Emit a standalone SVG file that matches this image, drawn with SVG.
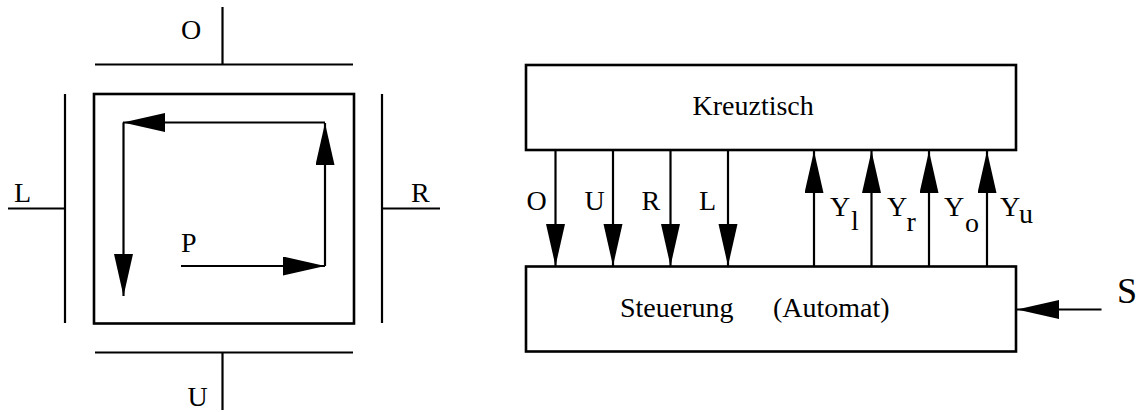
<svg xmlns="http://www.w3.org/2000/svg" width="1136" height="412" viewBox="0 0 1136 412">
  <style>
    .ln { stroke: #000; stroke-width: 2.2; fill: none; }
    .box { stroke: #000; stroke-width: 2.6; fill: #fff; }
    .arr { stroke: #000; stroke-width: 2.2; fill: none; marker-end: url(#head); }
    text { font-family: "Liberation Serif", "Times New Roman", serif; font-size: 28px; fill: #000; }
    .big { font-size: 36px; }
  </style>
  <defs>
    <marker id="head" markerUnits="userSpaceOnUse" markerWidth="44" markerHeight="22" refX="42" refY="9.5" orient="auto">
      <path d="M0,0 L42,9.5 L0,19 Z" fill="#000"/>
    </marker>
  </defs>
  <rect width="1136" height="412" fill="#fff"/>

  <!-- Left: cross table with its four limit switches -->
  <g id="table">
    <rect class="box" x="94" y="94" width="260" height="229.5"/>
  </g>
  <g id="switch-O">
    <line class="ln" x1="95" y1="64.5" x2="353" y2="64.5"/>
    <line class="ln" x1="222.5" y1="7" x2="222.5" y2="64.5"/>
    <text x="181" y="38.5">O</text>
  </g>
  <g id="switch-U">
    <line class="ln" x1="95" y1="352.5" x2="353" y2="352.5"/>
    <line class="ln" x1="222.5" y1="352.5" x2="222.5" y2="410"/>
    <text x="187.5" y="406">U</text>
  </g>
  <g id="switch-L">
    <line class="ln" x1="65" y1="94" x2="65" y2="323"/>
    <line class="ln" x1="8" y1="208.5" x2="65" y2="208.5"/>
    <text x="14" y="201.5">L</text>
  </g>
  <g id="switch-R">
    <line class="ln" x1="382" y1="94" x2="382" y2="323"/>
    <line class="ln" x1="382" y1="208.5" x2="440" y2="208.5"/>
    <text x="411" y="201.5">R</text>
  </g>
  <g id="point-P">
    <text x="181" y="252.3">P</text>
  </g>

  <!-- Path of the point P around the table -->
  <g id="path-arrows">
    <line class="arr" x1="181" y1="266" x2="325" y2="266"/>
    <line class="arr" x1="325" y1="266" x2="325" y2="123"/>
    <line class="arr" x1="325" y1="122.5" x2="123" y2="122.5"/>
    <line class="arr" x1="123.5" y1="122.5" x2="123.5" y2="296"/>
  </g>

  <!-- Right: block diagram -->
  <g id="kreuztisch">
    <rect class="box" x="526" y="65" width="490" height="85"/>
    <text x="692.5" y="115">Kreuztisch</text>
  </g>
  <g id="steuerung">
    <rect class="box" x="526" y="266.5" width="490" height="85"/>
    <text x="620" y="316.5">Steuerung</text>
    <text x="773" y="316.5">(Automat)</text>
  </g>

  <g id="connectors">
    <!-- commands to the table -->
    <line class="arr" x1="555.5" y1="150" x2="555.5" y2="266"/>
    <line class="arr" x1="613" y1="150" x2="613" y2="266"/>
    <line class="arr" x1="670.5" y1="150" x2="670.5" y2="266"/>
    <line class="arr" x1="728" y1="150" x2="728" y2="266"/>
    <!-- switch signals back to the controller -->
    <line class="arr" x1="814" y1="266" x2="814" y2="151"/>
    <line class="arr" x1="871.5" y1="266" x2="871.5" y2="151"/>
    <line class="arr" x1="929" y1="266" x2="929" y2="151"/>
    <line class="arr" x1="987" y1="266" x2="987" y2="151"/>
    <!-- external input S -->
    <line class="arr" x1="1101.5" y1="309.5" x2="1017" y2="309.5"/>
  </g>

  <g id="labels">
    <text x="526.5" y="209.5">O</text>
    <text x="584.5" y="209.5">U</text>
    <text x="641.5" y="209.5">R</text>
    <text x="699" y="209.5">L</text>
    <text x="830" y="215.5">Y</text><text x="851" y="230">l</text>
    <text x="887" y="215.5">Y</text><text x="906.5" y="231">r</text>
    <text x="944" y="215.5">Y</text><text x="965" y="231.5">o</text>
    <text x="1000" y="215.5">Y</text><text x="1019" y="223">u</text>
    <text class="big" x="1117" y="303">S</text>
  </g>
</svg>
